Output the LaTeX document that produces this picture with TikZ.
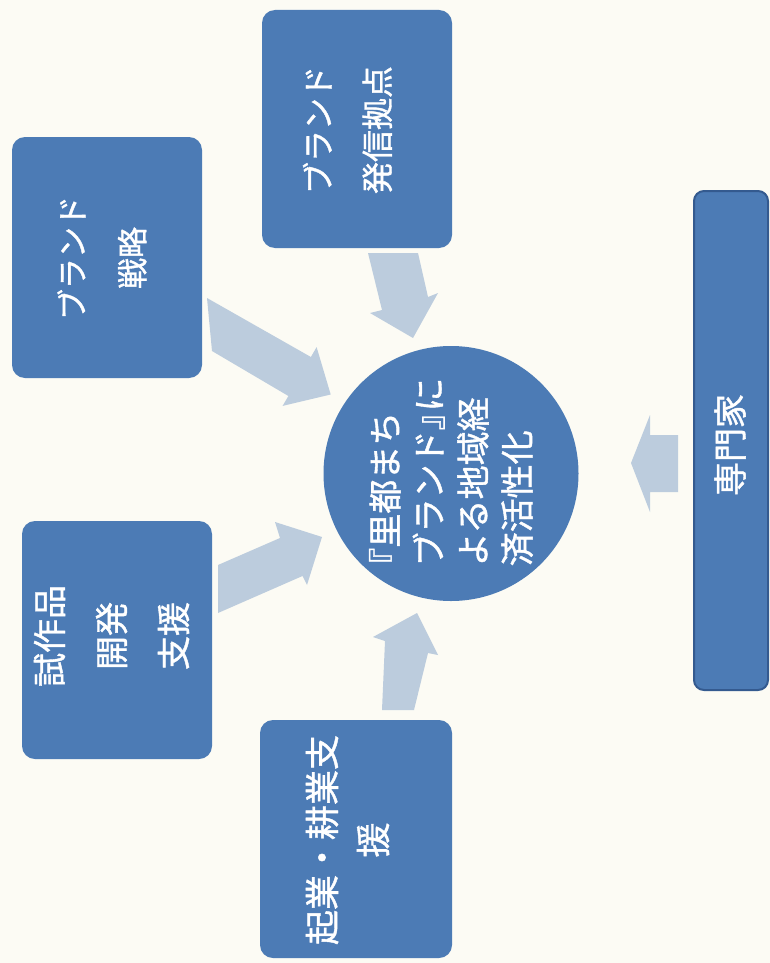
\documentclass[tikz,border=0pt]{standalone}
\usepackage{fontspec}
\setmainfont{Noto Sans CJK JP}[FakeBold=1.2]
\definecolor{bg}{HTML}{FCFBF4}
\definecolor{boxblue}{HTML}{4C7BB5}
\definecolor{boxedge}{HTML}{345A8F}
\definecolor{arrowblue}{HTML}{BCCCDD}
\begin{document}
\begin{tikzpicture}[x=1pt,y=-1pt,
  box/.style={fill=boxblue, rounded corners=13pt, inner sep=0pt, draw=none},
  lbl/.style={text=white, rotate=90, align=center, inner sep=0pt},
  blk/.style={fill=arrowblue}]
\fill[bg] (0,0) rectangle (770,963);
\useasboundingbox (0,0) rectangle (770,963);

% block arrows
\fill[blk] (207,298) -- (310.9,357) -- (316.6,347.1) -- (330.7,394.5) -- (282.6,405.9) -- (288.4,396) -- (212,351) -- cycle;
\fill[blk] (368,253) -- (418,253) -- (428,297) -- (438,293) -- (413,338) -- (370,313) -- (382,310) -- cycle;
\fill[blk] (218,565) -- (280,538) -- (275,522) -- (322,537) -- (307,585) -- (302.5,576) -- (218,613) -- cycle;
\fill[blk] (382,710) -- (385,641) -- (373,637) -- (417,613) -- (438,655) -- (428,653) -- (414,710) -- cycle;
\fill[blk] (678,435) -- (650,435) -- (650,415) -- (631,463) -- (650,512) -- (650,492) -- (678,492) -- cycle;

% boxes
\node[box, minimum width=190pt, minimum height=241pt] (bS) at (107,257.5) {};
\node[box, minimum width=190pt, minimum height=238pt] (bH) at (357,129) {};
\node[box, minimum width=190pt, minimum height=238pt] (bP) at (117,640) {};
\node[box, minimum width=192pt, minimum height=238pt] (bK) at (356,839) {};
\node[box, rounded corners=10pt, draw=boxedge, line width=2pt, minimum width=74pt, minimum height=499pt] (bE) at (731,440.5) {};
\node[circle, fill=boxblue, minimum size=255pt, inner sep=0pt] (c) at (451,473.5) {};

% labels
\node[lbl, font=\fontsize{31pt}{60pt}\selectfont] (tS) at (102,258) {ブランド\\戦略};
\node[lbl, font=\fontsize{32pt}{59pt}\selectfont] (tH) at (347.5,130) {ブランド\\発信拠点};
\node[lbl, font=\fontsize{34pt}{62pt}\selectfont] (tP) at (111.5,636) {試作品\\開発\\支援};
\node[lbl, font=\fontsize{35pt}{51pt}\selectfont] (tK) at (347.5,840) {起業・耕業支\\援};
\node[lbl, font=\fontsize{34pt}{40pt}\selectfont] (tE) at (730,445) {専門家};
\node[lbl, align=left, font=\fontsize{34pt}{44pt}\selectfont] (tc) at (451,472)
  {\kern-.45em『里都まち\\ブランド』\kern-.45em に\\よる地域経\\済活性化};
\end{tikzpicture}
\end{document}
